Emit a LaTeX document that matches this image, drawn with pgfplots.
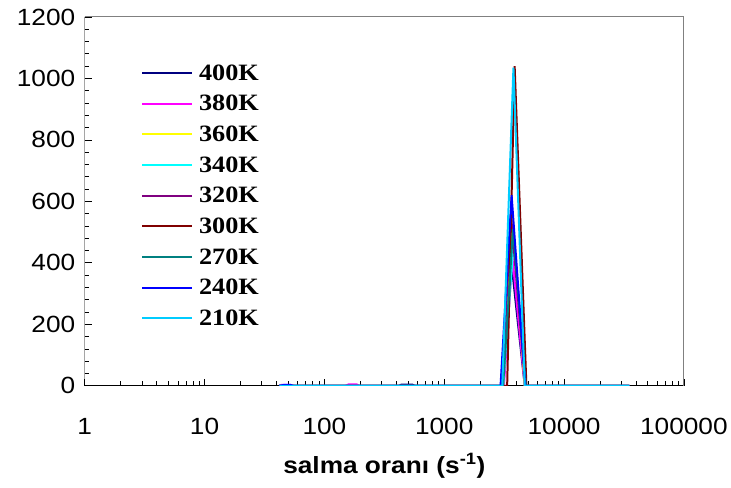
\documentclass[border=0pt]{standalone}
\usepackage{fontspec}
\setmainfont[FakeStretch=1.12]{Liberation Sans}
\newfontfamily\legfont[FakeStretch=1.12]{Liberation Serif}
\usepackage{pgfplots}
\pgfplotsset{compat=1.18}
\definecolor{c400}{RGB}{0,0,128}
\definecolor{c380}{RGB}{255,0,255}
\definecolor{c360}{RGB}{255,255,0}
\definecolor{c340}{RGB}{0,255,255}
\definecolor{c320}{RGB}{128,0,128}
\definecolor{c300}{RGB}{128,0,0}
\definecolor{c270}{RGB}{0,128,128}
\definecolor{c240}{RGB}{0,0,255}
\definecolor{c210}{RGB}{0,204,255}
\begin{document}
\begin{tikzpicture}
\begin{axis}[name=ax, scale only axis, width=601pt, height=370pt,
  xmode=log, xmin=1, xmax=100000, ymin=0, ymax=1200,
  xtick={1,10,100,1000,10000,100000},
  xticklabels={1,10,100,1000,10000,100000},
  minor xtick={2,3,4,5,6,7,8,9,20,30,40,50,60,70,80,90,200,300,400,500,600,700,800,900,2000,3000,4000,5000,6000,7000,8000,9000,20000,30000,40000,50000,60000,70000,80000,90000},
  ytick={0,200,400,600,800,1000,1200}, minor y tick num=4,
  tick pos=left, tick align=inside, major tick length=7pt, minor tick length=4.5pt,
  tick style={black, line width=0.8pt},
  axis line style={draw=none},
  ticklabel style={font=\fontsize{23.5}{28}\selectfont},
  /pgf/number format/assume math mode=true,
  /pgf/number format/1000 sep={},
  xticklabel style={yshift=-29pt},
  yticklabel style={xshift=-6pt},
  xlabel={salma oranı (s\textsuperscript{-1})},
  xlabel style={font=\bfseries\fontsize{23.5}{28}\selectfont, yshift=-12pt},
  legend style={at={(0.094,0.874)}, anchor=north west, draw=none, fill=none,
    font=\legfont\bfseries\fontsize{23.5}{28}\selectfont, row sep=11.6pt,
    inner sep=0pt, nodes={inner sep=1pt}},
  legend cell align=left,
  legend image code/.code={\draw[#1, line width=2pt] (0pt,0pt) -- (50pt,0pt); \path (55pt,0pt);},
  every axis plot/.append style={line width=2pt},
]
\draw[black, line width=1pt] (rel axis cs:0,1) -- (rel axis cs:0,0) -- (rel axis cs:1,0);
\draw[gray, line width=1pt] (rel axis cs:0,1) -- (rel axis cs:1,1) -- (rel axis cs:1,0);
\addplot[c400] coordinates {(42,0)(420,0)(440,4)(540,4)(570,0)(3000,0)(3550,440)(4000,250)(4700,0)(35000,0)};
\addlegendentry{400K}
\addplot[c380] coordinates {(42,0)(44,3)(52,3)(56,0)(150,0)(160,5)(185,5)(195,0)(3150,0)(3700,420)(4700,0)(35000,0)};
\addlegendentry{380K}
\addplot[c360] coordinates {(42,0)(3100,0)(3700,560)(4700,0)(35000,0)};
\addlegendentry{360K}
\addplot[c340] coordinates {(42,0)(3100,0)(3800,470)(4800,0)(35000,0)};
\addlegendentry{340K}
\addplot[c320] coordinates {(42,0)(3050,0)(3600,560)(4750,0)(35000,0)};
\addlegendentry{320K}
\addplot[c300] coordinates {(42,0)(3350,0)(3870,1040)(4850,0)(35000,0)};
\addlegendentry{300K}
\addplot[c270] coordinates {(42,0)(3100,0)(3750,510)(4800,0)(35000,0)};
\addlegendentry{270K}
\addplot[c240] coordinates {(42,0)(46,3)(52,3)(55,0)(2950,0)(3650,620)(4750,0)(35000,0)};
\addlegendentry{240K}
\addplot[c210] coordinates {(42,0)(3050,0)(3780,1035)(4700,0)(35000,0)};
\addlegendentry{210K}
\end{axis}
\path ([shift={(-85pt,-102pt)}]ax.south west) rectangle ([shift={(45pt,17pt)}]ax.north east);
\end{tikzpicture}
\end{document}
